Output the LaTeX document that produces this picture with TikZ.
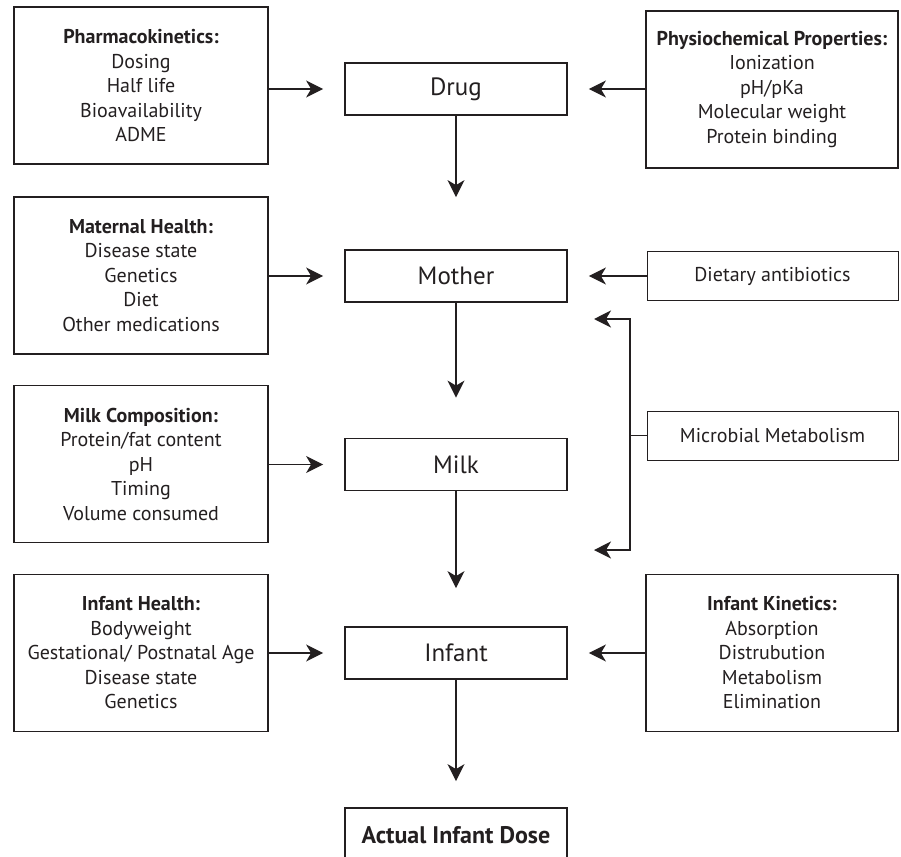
\documentclass[tikz,border=0pt]{standalone}
\usepackage{fontspec}
\setmainfont{PT Sans}
\usetikzlibrary{arrows.meta}
\definecolor{ink}{RGB}{35,31,32}
\tikzset{
  sidebox/.style={draw=ink, line width=1.8pt, text=ink, align=center, inner sep=0pt,
    minimum width=254pt, minimum height=157pt, font=\fontsize{20}{24.5}\selectfont},
  thinbox/.style={draw=ink, line width=1pt, text=ink, align=center, inner sep=0pt,
    minimum width=251pt, minimum height=49pt, font=\fontsize{20}{24.5}\selectfont},
  mainbox/.style={draw=ink, line width=1.8pt, text=ink, align=center, inner sep=0pt,
    minimum width=222pt, minimum height=52pt, font=\fontsize{25}{30}\selectfont},
  conn/.style={draw=ink, line width=1.4pt, -{Stealth[length=17pt, width=17pt, inset=5pt]}},
  plain/.style={draw=ink, line width=1.4pt}
}
\begin{document}
\begin{tikzpicture}[x=1pt,y=-1pt]
\useasboundingbox (0,0) rectangle (901,856);
% left column
\node[sidebox] (pk) at (141,85.5) {\textbf{Pharmacokinetics:}\\Dosing\\Half life\\Bioavailability\\ADME};
\node[sidebox] (mh) at (141,275.5) {\textbf{Maternal Health:}\\Disease state\\Genetics\\Diet\\Other medications};
\node[sidebox] (mc) at (141,464) {\textbf{Milk Composition:}\\Protein/fat content\\pH\\Timing\\Volume consumed};
\node[sidebox] (ih) at (141,653) {\textbf{Infant Health:}\\Bodyweight\\Gestational/ Postnatal Age\\Disease state\\Genetics};
% right column
\node[sidebox, minimum width=252pt] (pc) at (772,89.5) {\textbf{Physiochemical Properties:}\\Ionization\\pH/pKa\\Molecular weight\\Protein binding};
\node[thinbox] (da) at (772.5,276) {Dietary antibiotics};
\node[thinbox] (mm) at (772.5,435.5) {Microbial Metabolism};
\node[sidebox, minimum width=252pt] (ik) at (772,653) {\textbf{Infant Kinetics:}\\Absorption\\Distrubution\\Metabolism\\Elimination};
% centre column
\node[mainbox] (drug) at (456,89) {Drug};
\node[mainbox] (mother) at (456,276) {Mother};
\node[mainbox] (milk) at (456,464.5) {Milk};
\node[mainbox] (infant) at (456,653) {Infant};
\node[mainbox, minimum height=54pt, font=\fontsize{24}{28}\selectfont\bfseries] (dose) at (456,835) {Actual Infant Dose};
% horizontal arrows
\draw[conn] (pk.east |- drug) -- ([xshift=-21pt]drug.west);
\draw[conn] (pc.west |- drug) -- ([xshift=21pt]drug.east);
\draw[conn] (mh.east |- mother) -- ([xshift=-21pt]mother.west);
\draw[conn] (da.west |- mother) -- ([xshift=21pt]mother.east);
\draw[conn] (mc.east |- milk) -- ([xshift=-21pt]milk.west);
\draw[conn] (ih.east |- infant) -- ([xshift=-21pt]infant.west);
\draw[conn] (ik.west |- infant) -- ([xshift=21pt]infant.east);
% vertical arrows
\draw[conn] (drug.south) -- ([yshift=52pt]mother.north);
\draw[conn] (mother.south) -- ([yshift=40pt]milk.north);
\draw[conn] (milk.south) -- ([yshift=38pt]infant.north);
\draw[conn] (infant.south) -- ([yshift=26pt]dose.north);
% microbial bracket
\coordinate (bj) at (630,435.5);
\coordinate (bt) at (630,319);
\coordinate (bb) at (630,550);
\draw[plain] (mm.west) -- (bj);
\draw[conn] (bj) -- (bt) -- (594,319);
\draw[conn] (bj) -- (bb) -- (594,550);
\end{tikzpicture}
\end{document}
